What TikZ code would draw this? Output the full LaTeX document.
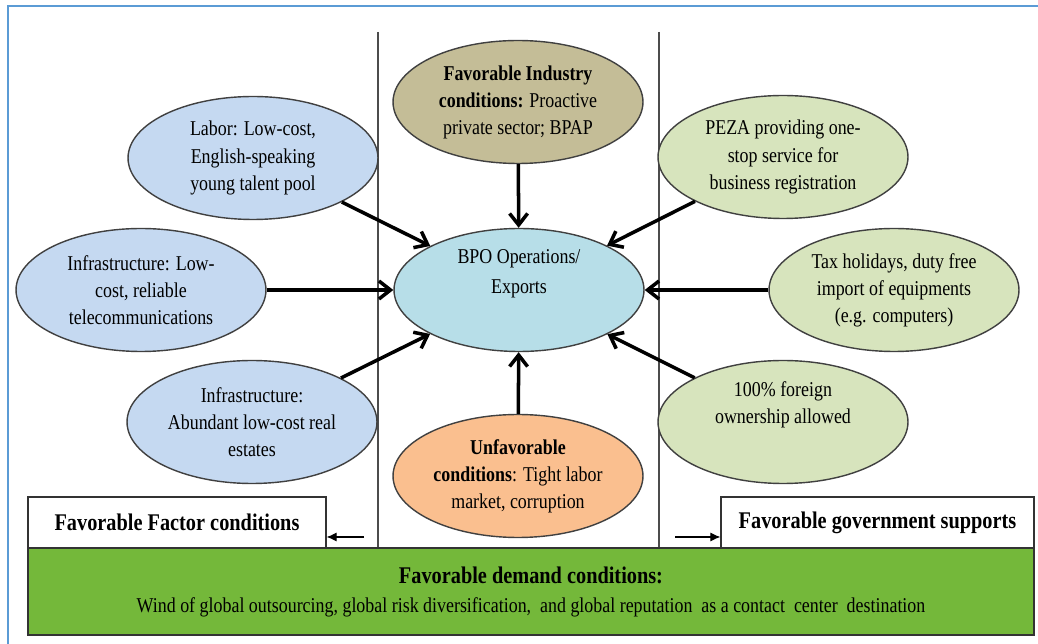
\documentclass[tikz,border=0pt]{standalone}
\usepackage{fontspec}
\setmainfont[FakeStretch=0.85]{Liberation Serif}
\usetikzlibrary{shapes.geometric,arrows.meta}

\definecolor{frameblue}{RGB}{91,155,213}
\definecolor{factorblue}{RGB}{197,217,241}
\definecolor{industrytan}{RGB}{196,189,151}
\definecolor{bpocyan}{RGB}{183,222,232}
\definecolor{unfavorange}{RGB}{250,191,143}
\definecolor{govgreen}{RGB}{215,228,189}
\definecolor{demandgreen}{RGB}{116,184,58}

\tikzset{
  oval/.style={ellipse, draw=black!75, line width=0.8pt, minimum width=5cm,
    minimum height=2.46cm, inner sep=0pt, align=center,
    font=\fontsize{12}{15.4}\selectfont},
  pushes/.style={line width=2pt, -{Straight Barb[length=2.3mm,width=3.6mm,line width=2pt]}},
  sidebox/.style={draw=black!80, line width=0.7pt, fill=white, inner sep=0pt,
    font=\fontsize{13.6}{15}\selectfont\bfseries},
  smallarrow/.style={line width=0.6pt, -{Latex[length=2mm,width=1.8mm]}}
}

\begin{document}
\begin{tikzpicture}[x=0.02cm,y=-0.02cm]
\useasboundingbox (0,0) rectangle (1038,644);
% outer frame
\draw [frameblue, line width=1.2pt] (8,644) -- (8,6) -- (1038,6);
% dividers
\draw [black!70, line width=0.6pt] (378,32) -- (378,548);
\draw [black!70, line width=0.6pt] (659,32) -- (659,548);

% factor conditions
\node [oval, fill=factorblue] (labor) at (253,158) {Labor: Low-cost,\\English-speaking\\young talent pool};
\node [oval, fill=factorblue] (telecom) at (141,290) {Infrastructure: Low-\\cost, reliable\\telecommunications};
\node [oval, fill=factorblue] (estate) at (252,422) {Infrastructure:\\Abundant low-cost real\\estates};

% industry, core, obstacles
\node [oval, fill=industrytan] (industry) at (518,102) {\textbf{Favorable Industry}\\\textbf{conditions:} Proactive\\private sector; BPAP};
\node [oval, fill=bpocyan] (bpo) at (519,290) {};
\node [align=center, font=\fontsize{12}{17}\selectfont] (bpotext) at (519,274) {BPO Operations/\\Exports};
\node [oval, fill=unfavorange] (unfav) at (518,476) {\textbf{Unfavorable}\\\textbf{conditions}: Tight labor\\market, corruption};

% government supports
\node [oval, fill=govgreen] (peza) at (783,157) {PEZA providing one-\\stop service for\\business registration};
\node [oval, fill=govgreen] (tax) at (894,290) {Tax holidays, duty free\\import of equipments\\(e.g. computers)};
\node [oval, fill=govgreen] (owner) at (783,422) {};
\node [align=center, font=\fontsize{12}{15}\selectfont] (ownertext) at (783,405) {100\% foreign\\ownership allowed};

\draw [pushes] (labor) -- (bpo);
\draw [pushes] (telecom) -- (bpo);
\draw [pushes] (estate) -- (bpo);
\draw [pushes] (industry) -- (bpo);
\draw [pushes] (unfav) -- (bpo);
\draw [pushes] (peza) -- (bpo);
\draw [pushes] (tax) -- (bpo);
\draw [pushes] (owner) -- (bpo);

% bottom boxes
\node [sidebox, minimum width=5.96cm, minimum height=1.02cm] (factor) at (177,522.5) {Favorable Factor conditions};
\node [sidebox, minimum width=6.26cm, minimum height=1.02cm] (gov) at (877.5,522.5) {Favorable government supports};
\node [draw=black!80, line width=0.8pt, fill=demandgreen, minimum width=20.12cm,
  minimum height=1.74cm, align=center, font=\fontsize{12}{16.5}\selectfont] (demand) at (531,591.5)
  {{\fontsize{13.6}{16.5}\selectfont\bfseries Favorable demand conditions:}\\
   Wind of global outsourcing, global risk diversification,\ \ and global reputation\ \ as a contact\ \ center\ \ destination};

\coordinate (lefttail) at (364,537);
\coordinate (righttail) at (675,537);
\draw [smallarrow] (lefttail) -- (factor.east |- lefttail);
\draw [smallarrow] (righttail) -- (gov.west |- righttail);
\end{tikzpicture}
\end{document}
